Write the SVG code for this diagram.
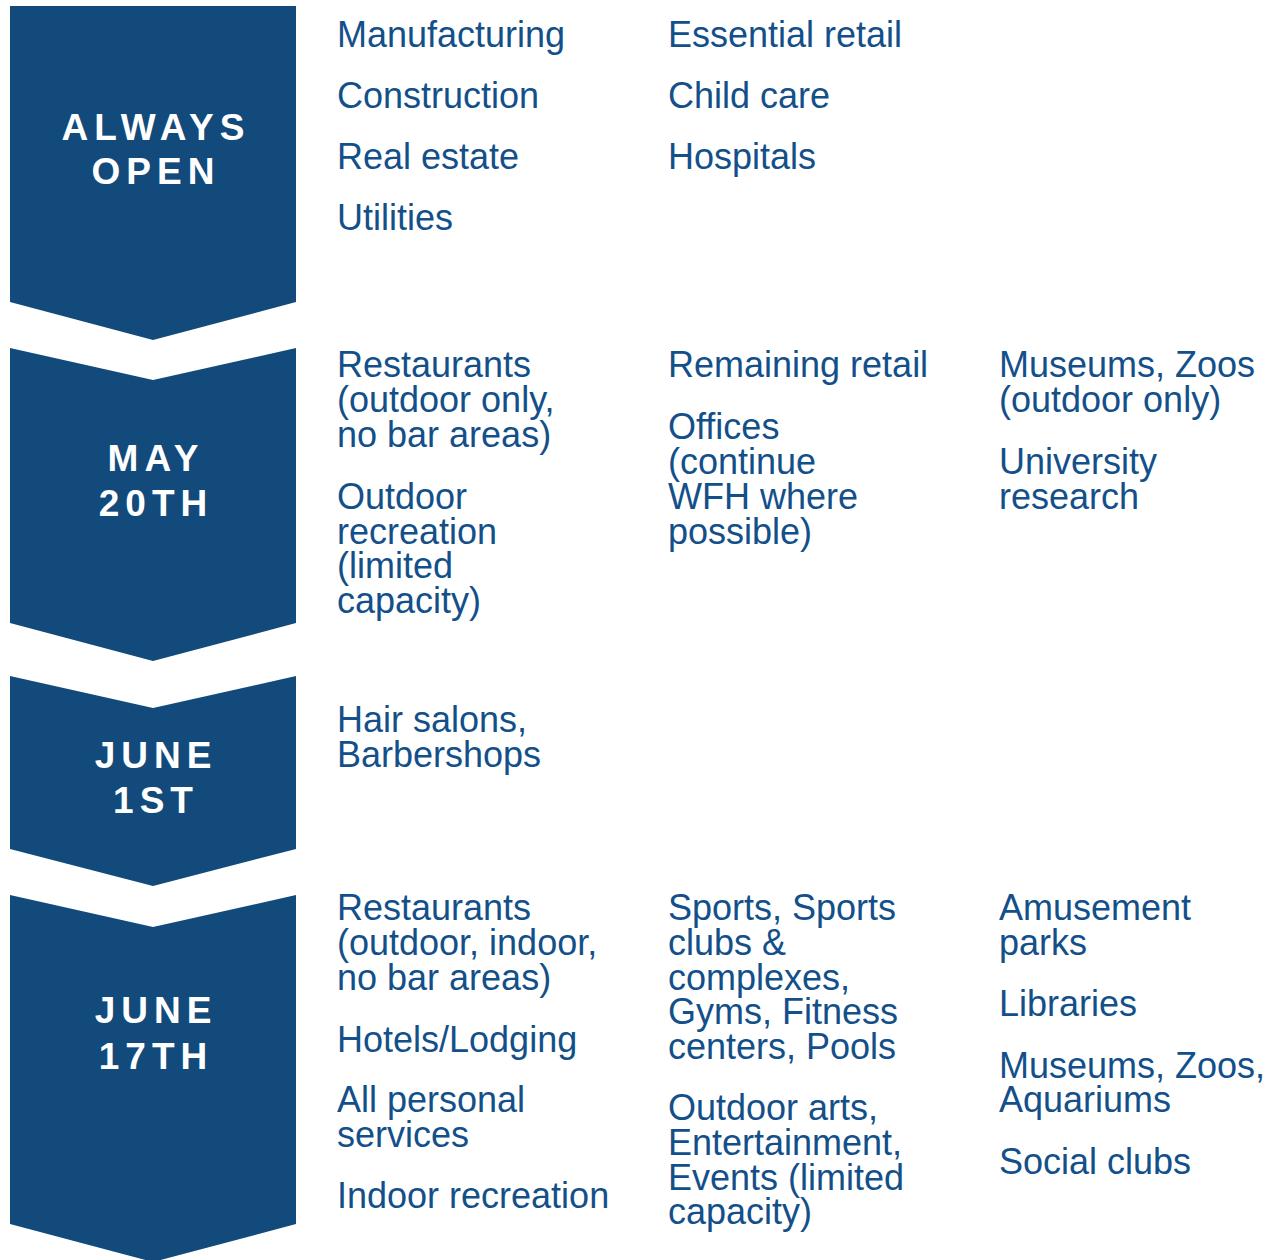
<svg xmlns="http://www.w3.org/2000/svg" width="1272" height="1260" viewBox="0 0 1272 1260">
<style>
.chev{fill:#134a7c}
.hd{font-family:"Liberation Sans",Arial,sans-serif;font-weight:bold;font-size:37px;fill:#ffffff;letter-spacing:6px;text-anchor:middle}
.it{font-family:"Liberation Sans",Arial,sans-serif;font-size:36px;fill:#13508a}
</style>
<rect width="1272" height="1260" fill="#ffffff"/>
<g id="stage-always-open">
<polygon class="chev" points="10,6 296,6 296,302 153,340 10,302"/>
<text class="hd" x="156" y="140">ALWAYS</text>
<text class="hd" x="156" y="184">OPEN</text>
<text class="it" x="337" y="47">Manufacturing</text>
<text class="it" x="337" y="108">Construction</text>
<text class="it" x="337" y="169">Real estate</text>
<text class="it" x="337" y="230">Utilities</text>
<text class="it" x="668" y="47">Essential retail</text>
<text class="it" x="668" y="108">Child care</text>
<text class="it" x="668" y="169">Hospitals</text>
</g>
<g id="stage-may-20th">
<polygon class="chev" points="10,348 153,380 296,348 296,623 153,661 10,623"/>
<text class="hd" x="156" y="471">MAY</text>
<text class="hd" x="156" y="516">20TH</text>
<text class="it" x="337" y="377">Restaurants<tspan x="337" dy="35">(outdoor only,</tspan><tspan x="337" dy="35">no bar areas)</tspan></text>
<text class="it" x="337" y="509">Outdoor<tspan x="337" dy="35">recreation</tspan><tspan x="337" dy="34">(limited</tspan><tspan x="337" dy="35">capacity)</tspan></text>
<text class="it" x="668" y="377">Remaining retail</text>
<text class="it" x="668" y="439">Offices<tspan x="668" dy="35">(continue</tspan><tspan x="668" dy="35">WFH where</tspan><tspan x="668" dy="35">possible)</tspan></text>
<text class="it" x="999" y="377">Museums, Zoos<tspan x="999" dy="35">(outdoor only)</tspan></text>
<text class="it" x="999" y="474">University<tspan x="999" dy="35">research</tspan></text>
</g>
<g id="stage-june-1st">
<polygon class="chev" points="10,676 153,708 296,676 296,849 153,886 10,849"/>
<text class="hd" x="156" y="768">JUNE</text>
<text class="hd" x="156" y="813">1ST</text>
<text class="it" x="337" y="732">Hair salons,<tspan x="337" dy="35">Barbershops</tspan></text>
</g>
<g id="stage-june-17th">
<polygon class="chev" points="10,895 153,927 296,895 296,1224 153,1262 10,1224"/>
<text class="hd" x="156" y="1023">JUNE</text>
<text class="hd" x="156" y="1069">17TH</text>
<text class="it" x="337" y="920">Restaurants<tspan x="337" dy="35">(outdoor, indoor,</tspan><tspan x="337" dy="35">no bar areas)</tspan></text>
<text class="it" x="337" y="1052">Hotels/Lodging</text>
<text class="it" x="337" y="1112">All personal<tspan x="337" dy="35">services</tspan></text>
<text class="it" x="337" y="1208">Indoor recreation</text>
<text class="it" x="668" y="920">Sports, Sports<tspan x="668" dy="35">clubs &amp;</tspan><tspan x="668" dy="35">complexes,</tspan><tspan x="668" dy="34">Gyms, Fitness</tspan><tspan x="668" dy="35">centers, Pools</tspan></text>
<text class="it" x="668" y="1120">Outdoor arts,<tspan x="668" dy="35">Entertainment,</tspan><tspan x="668" dy="35">Events (limited</tspan><tspan x="668" dy="34">capacity)</tspan></text>
<text class="it" x="999" y="920">Amusement<tspan x="999" dy="35">parks</tspan></text>
<text class="it" x="999" y="1016">Libraries</text>
<text class="it" x="999" y="1078">Museums, Zoos,<tspan x="999" dy="34">Aquariums</tspan></text>
<text class="it" x="999" y="1174">Social clubs</text>
</g>
</svg>
